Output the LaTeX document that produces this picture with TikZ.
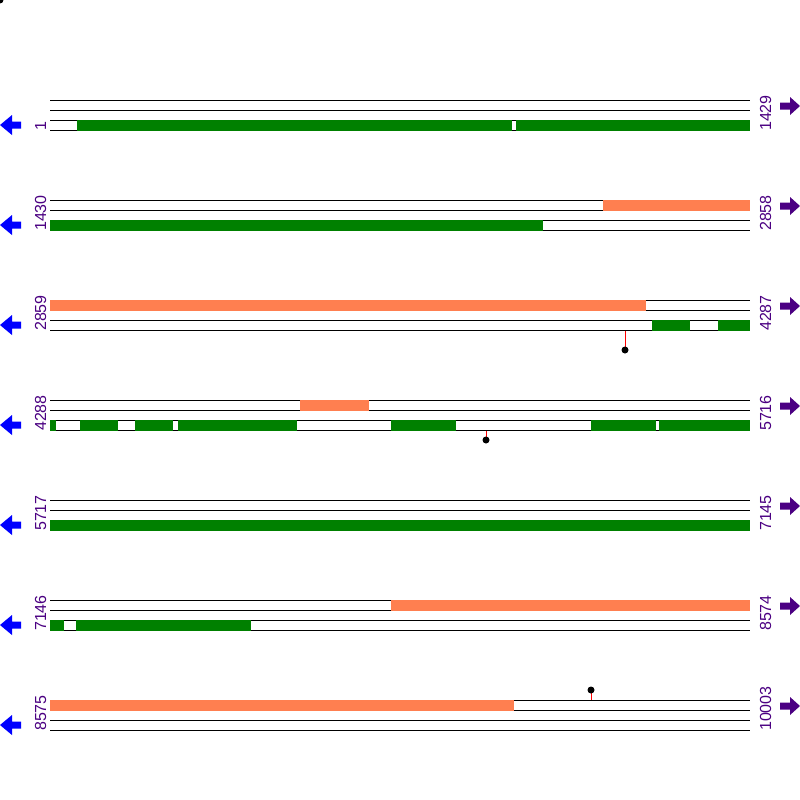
\documentclass[tikz,border=0pt]{standalone}
\usepackage{fontspec}
\setmainfont{Liberation Sans}
\usepackage{tikz}
\usetikzlibrary{positioning}

\definecolor{cdsgreen}{HTML}{008000}
\definecolor{featorange}{HTML}{FF7F50}
\definecolor{labpurple}{HTML}{4B0082}
\definecolor{dirblue}{HTML}{0000FF}

\tikzset{
  track/.style={draw=black, line width=1pt},
  cds/.style={fill=cdsgreen},
  feat/.style={fill=featorange},
  poslabel/.style={rotate=90, anchor=base west, inner sep=0pt, text=labpurple,
    font=\fontsize{16}{16}\selectfont},
  site/.style={draw=red, line width=1pt},
}

\begin{document}
\begin{tikzpicture}[x=1pt, y=-1pt]
  \useasboundingbox (0,0) rectangle (800,800);
  \fill[white] (0,0) rectangle (800,800);
  \fill (0,0) circle (3.5);

  % Rows: four track lines, position labels and direction arrows
  \foreach \r/\a/\b in {100/1/1429, 200/1430/2858, 300/2859/4287, 400/4288/5716,
                        500/5717/7145, 600/7146/8574, 700/8575/10003} {
    \foreach \t in {0,10,20,30}
      \draw[track] (50,\r+\t) -- (750,\r+\t);
    \node[poslabel] (start\r) at (46,\r+31) {\a};
    \node[poslabel] (end\r) at (771,\r+31) {\b};
    \fill[dirblue] (0,\r+25) -- (12,\r+15) -- (12,\r+21.5) -- (21,\r+21.5)
      -- (21,\r+28.5) -- (12,\r+28.5) -- (12,\r+35) -- cycle;
    \fill[labpurple] (800,\r+6) -- (790,\r-3) -- (790,\r+2.5) -- (780,\r+2.5)
      -- (780,\r+9.5) -- (790,\r+9.5) -- (790,\r+15) -- cycle;
  }

  % Row 1
  \path[cds] (77,119.5) rectangle (512,130.5);
  \path[cds] (516,119.5) rectangle (750,130.5);

  % Row 2
  \path[feat] (603,199.5) rectangle (750,210.5);
  \path[cds] (50,219.5) rectangle (543,230.5);

  % Row 3
  \path[feat] (50,299.5) rectangle (646,310.5);
  \path[cds] (652,319.5) rectangle (690,330.5);
  \path[cds] (718,319.5) rectangle (750,330.5);
  \draw[site] (625,330.5) -- (625,347);
  \fill (625,350) circle (3.5);

  % Row 4
  \path[feat] (300,399.5) rectangle (369,410.5);
  \foreach \x/\y in {50/56, 80/118, 135/173, 178/297, 391/456, 591/656, 659/750}
    \path[cds] (\x,419.5) rectangle (\y,430.5);
  \draw[site] (486,430.5) -- (486,437);
  \fill (486,440) circle (3.5);

  % Row 5
  \path[cds] (50,519.5) rectangle (750,530.5);

  % Row 6
  \path[feat] (391,599.5) rectangle (750,610.5);
  \path[cds] (50,619.5) rectangle (64,630.5);
  \path[cds] (76,619.5) rectangle (251,630.5);

  % Row 7
  \path[feat] (50,699.5) rectangle (514,710.5);
  \draw[site] (591,699.5) -- (591,693);
  \fill (591,690) circle (3.5);
\end{tikzpicture}
\end{document}
